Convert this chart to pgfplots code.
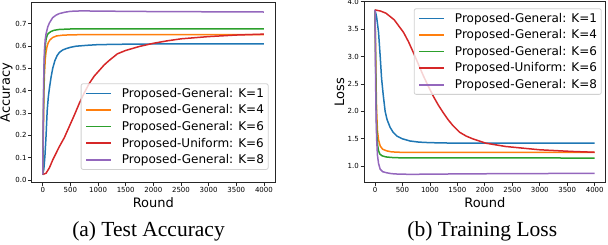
\documentclass[border=0pt]{standalone}
\usepackage{pgfplots}
\pgfplotsset{compat=1.18}
\usepackage{fontspec}
\setmainfont{Liberation Serif}
\newfontfamily\dejavu{DejaVu Sans}
\definecolor{c0}{HTML}{1F77B4}
\definecolor{c1}{HTML}{FF7F0E}
\definecolor{c2}{HTML}{2CA02C}
\definecolor{c3}{HTML}{D62728}
\definecolor{c4}{HTML}{9467BD}
\pgfplotsset{
  mpl/.style={
    scale only axis,
    axis line style={black!85, line width=0.8pt},
    tick align=outside,
    tick pos=left,
    major tick length=3.5pt,
    every tick/.style={black!85, line width=0.8pt},
    /pgf/number format/assume math mode=true,
    /pgf/number format/1000 sep={},
    tick label style={font=\dejavu\fontsize{7}{7}\selectfont},
    xticklabel style={inner sep=1pt},
    yticklabel style={inner sep=1.5pt},
    xmin=-200, xmax=4200,
    xtick={0,500,1000,1500,2000,2500,3000,3500,4000},
    label style={font=\dejavu\fontsize{13}{13}\selectfont},
    xlabel style={at={(axis description cs:0.5,0)}, anchor=north, inner sep=0pt, yshift=-15pt},
    legend cell align=left,
    legend image code/.code={\draw[##1, line width=1.5pt] (0pt,0pt) -- (25pt,0pt);},
    legend style={font=\dejavu\fontsize{12}{12}\selectfont, draw=black!18, line width=0.8pt,
      rounded corners=2pt, fill=white, fill opacity=0.8, draw opacity=1, text opacity=1,
      inner xsep=4.3pt, inner ysep=4.3pt, column sep=10pt, row sep=6pt,
      nodes={inner sep=0pt}},
    every axis plot/.append style={line width=1.5pt, no markers},
  }
}
\begin{document}
\begin{tikzpicture}
\useasboundingbox (0,0) rectangle (608pt,244pt);
\begin{axis}[mpl, at={(31.7pt,61.3pt)}, anchor=south west,
  width=243.3pt, height=180pt,
  ymin=-0.0116, ymax=0.7936,
  ytick={0,0.1,0.2,0.3,0.4,0.5,0.6,0.7},
  yticklabel style={/pgf/number format/fixed, /pgf/number format/fixed zerofill, /pgf/number format/precision=1},
  xlabel={Round}, ylabel={Accuracy},
  ylabel style={at={(axis description cs:-0.0892,0.5)}, anchor=base, inner sep=0pt},
  legend style={at={(0.2014,0.552)}, anchor=north west},
]
\addplot[c0] coordinates {(0,0.025) (20,0.05) (40,0.11) (60,0.2) (80,0.31) (100,0.37) (120,0.41) (150,0.46) (180,0.5) (220,0.535) (260,0.557) (300,0.571) (360,0.582) (420,0.588) (500,0.594) (600,0.599) (800,0.603) (1000,0.606) (1500,0.608) (2000,0.609) (4000,0.609)};
\addlegendentry{Proposed-General: K=1}
\addplot[c1] coordinates {(0,0.025) (10,0.2) (20,0.38) (30,0.47) (45,0.54) (60,0.575) (80,0.6) (100,0.615) (130,0.627) (180,0.638) (250,0.645) (350,0.648) (500,0.65) (1000,0.651) (4000,0.651)};
\addlegendentry{Proposed-General: K=4}
\addplot[c2] coordinates {(0,0.025) (10,0.25) (20,0.45) (30,0.54) (45,0.6) (60,0.63) (80,0.648) (100,0.656) (150,0.665) (200,0.67) (300,0.674) (500,0.676) (4000,0.676)};
\addlegendentry{Proposed-General: K=6}
\addplot[c3] coordinates {(0,0.025) (60,0.031) (120,0.055) (180,0.09) (240,0.12) (300,0.15) (390,0.19) (480,0.24) (570,0.29) (660,0.343) (750,0.39) (840,0.432) (930,0.465) (1020,0.49) (1110,0.515) (1200,0.535) (1350,0.565) (1500,0.58) (1750,0.598) (2000,0.612) (2250,0.623) (2500,0.632) (3000,0.642) (3500,0.649) (4000,0.653)};
\addlegendentry{Proposed-Uniform: K=6}
\addplot[c4] coordinates {(0,0.025) (10,0.3) (20,0.5) (30,0.58) (45,0.63) (60,0.655) (90,0.685) (120,0.703) (180,0.727) (240,0.738) (300,0.745) (400,0.751) (500,0.755) (700,0.757) (1000,0.756) (2000,0.754) (3000,0.753) (4000,0.752)};
\addlegendentry{Proposed-General: K=8}
\end{axis}
\begin{axis}[mpl, at={(364pt,61.3pt)}, anchor=south west,
  width=241.7pt, height=181pt,
  ymin=0.7, ymax=4.0,
  ytick={1.0,1.5,2.0,2.5,3.0,3.5,4.0},
  yticklabel style={/pgf/number format/fixed, /pgf/number format/fixed zerofill, /pgf/number format/precision=1},
  xlabel={Round}, ylabel={Loss},
  ylabel style={at={(axis description cs:-0.0827,0.5)}, anchor=base, inner sep=0pt},
  legend style={at={(0.9834,0.9635)}, anchor=north east},
]
\addplot[c0] coordinates {(0,3.85) (30,3.72) (65,3.44) (95,3.0) (120,2.6) (150,2.3) (185,2.0) (220,1.85) (275,1.71) (330,1.62) (400,1.55) (500,1.5) (640,1.46) (800,1.44) (1000,1.43) (1500,1.42) (4000,1.42)};
\addlegendentry{Proposed-General: K=1}
\addplot[c1] coordinates {(0,3.85) (10,3.2) (20,2.5) (30,2.0) (45,1.65) (65,1.48) (95,1.37) (140,1.31) (215,1.28) (300,1.262) (450,1.255) (4000,1.252)};
\addlegendentry{Proposed-General: K=4}
\addplot[c2] coordinates {(0,3.85) (8,3.2) (16,2.5) (25,1.9) (35,1.55) (50,1.37) (65,1.28) (90,1.22) (130,1.19) (200,1.17) (300,1.16) (500,1.152) (4000,1.15)};
\addlegendentry{Proposed-General: K=6}
\addplot[c3] coordinates {(0,3.85) (100,3.83) (200,3.79) (350,3.67) (520,3.44) (610,3.27) (700,3.07) (790,2.86) (880,2.65) (970,2.46) (1060,2.28) (1150,2.12) (1240,1.98) (1330,1.85) (1420,1.74) (1540,1.62) (1660,1.55) (1780,1.5) (2020,1.42) (2380,1.36) (3000,1.30) (3580,1.27) (4000,1.255)};
\addlegendentry{Proposed-Uniform: K=6}
\addplot[c4] coordinates {(0,3.85) (6,3.2) (12,2.5) (20,1.9) (30,1.5) (45,1.2) (65,1.05) (95,0.945) (140,0.9) (216,0.88) (300,0.865) (450,0.855) (700,0.853) (1000,0.856) (1500,0.86) (2500,0.866) (4000,0.87)};
\addlegendentry{Proposed-General: K=8}
\end{axis}
\node[anchor=base, font=\fontsize{21.5}{21.5}\selectfont, inner sep=0pt] at (148.5pt,8pt) {(a) Test Accuracy};
\node[anchor=base, font=\fontsize{21.5}{21.5}\selectfont, inner sep=0pt] at (482.3pt,8pt) {(b) Training Loss};
\end{tikzpicture}
\end{document}
